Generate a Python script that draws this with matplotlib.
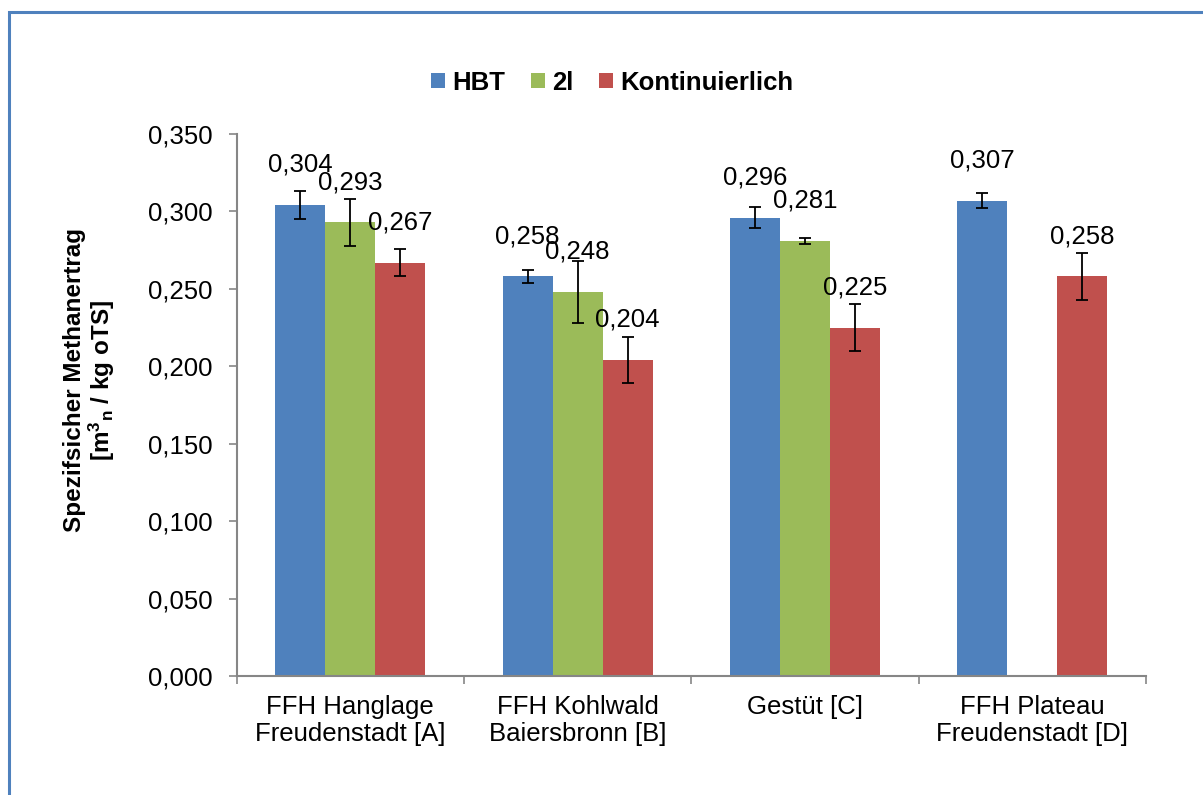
import numpy as np
import matplotlib
matplotlib.use("Agg")
import matplotlib.pyplot as plt
from matplotlib.lines import Line2D
from matplotlib.ticker import FuncFormatter, FixedLocator

plt.rcParams['font.family'] = ['Liberation Sans', 'DejaVu Sans']
plt.rcParams['mathtext.fontset'] = 'custom'
plt.rcParams['mathtext.rm'] = 'Liberation Sans'
plt.rcParams['mathtext.bf'] = 'Liberation Sans:bold'

# data
categories = ["FFH Hanglage\nFreudenstadt [A]", "FFH Kohlwald\nBaiersbronn [B]",
              "Gestüt [C]", "FFH Plateau\nFreudenstadt [D]"]
series = ["HBT", "2l", "Kontinuierlich"]
hbt = [0.304, 0.258, 0.296, 0.307]
zwei_l = [0.293, 0.248, 0.281, np.nan]
kontinuierlich = [0.267, 0.204, 0.225, 0.258]
hbt_err = [0.009, 0.004, 0.007, 0.005]
zwei_l_err = [0.015, 0.020, 0.002, np.nan]
kontinuierlich_err = [0.009, 0.015, 0.015, 0.015]

colors = ["#4F81BD", "#9BBB59", "#C0504D"]
axis_grey = "#868686"

fig = plt.figure(figsize=(12.03, 7.95), dpi=100)
ax = fig.add_axes([0.1966, 0.1497, 0.7560, 0.6817])

x = np.arange(len(categories))
width = 0.22
values = [hbt, zwei_l, kontinuierlich]
errors = [hbt_err, zwei_l_err, kontinuierlich_err]

for i, (vals, errs) in enumerate(zip(values, errors)):
    pos = x + (i - 1) * width
    ax.bar(pos, vals, width, color=colors[i], label=series[i], zorder=2)
    ax.errorbar(pos, vals, yerr=errs, fmt='none', ecolor='black',
                elinewidth=1.3, capsize=4.5, capthick=1.3, zorder=3)
    for p, v in zip(pos, vals):
        if np.isnan(v):
            continue
        ax.annotate(f"{v:.3f}".replace('.', ','), (p, v), xytext=(0, 29),
                    textcoords='offset points', ha='center', va='center',
                    fontsize=18.5)

ax.set_xlim(-0.5, len(categories) - 0.5)
ax.set_ylim(0, 0.35)
ax.set_yticks(np.arange(0, 0.351, 0.05))
ax.yaxis.set_major_formatter(FuncFormatter(lambda v, _: f"{v:.3f}".replace('.', ',')))

ax.set_xticks(x)
ax.set_xticklabels(categories, fontsize=18.5, linespacing=1.15)
ax.xaxis.set_minor_locator(FixedLocator(np.arange(-0.5, len(categories), 1.0)))
ax.tick_params(axis='x', which='major', length=0, pad=14)
ax.tick_params(axis='x', which='minor', length=6, width=1.2, color=axis_grey, direction='out')
ax.tick_params(axis='y', length=6, width=1.2, color=axis_grey, labelsize=18.5, pad=11)

for s in ['top', 'right']:
    ax.spines[s].set_visible(False)
for s in ['left', 'bottom']:
    ax.spines[s].set_color(axis_grey)
    ax.spines[s].set_linewidth(1.5)

ax.set_ylabel("Spezifsicher Methanertrag\n[m$\\mathbf{^3}$$\\mathbf{_n}$ / kg oTS]",
              fontsize=17.5, fontweight='bold', va='center', ma='center', linespacing=1.05)
ax.yaxis.set_label_coords(-0.161, 0.546)

fig.legend(loc='center', bbox_to_anchor=(0.509, 0.896), ncol=3, frameon=False,
           prop={'weight': 'bold', 'size': 18.5}, handlelength=0.55, handleheight=0.55,
           handletextpad=0.27, columnspacing=1.0)

# blue chart frame (only top and left edges visible in the crop)
W, H = 1203, 795
fig.add_artist(Line2D([8.5 / W, 8.5 / W, 1.0], [0.0, 1 - 11.5 / H, 1 - 11.5 / H],
                      transform=fig.transFigure, color="#4F81BD", linewidth=2.2,
                      solid_joinstyle='miter'))

fig.savefig("out.png", dpi=100)
